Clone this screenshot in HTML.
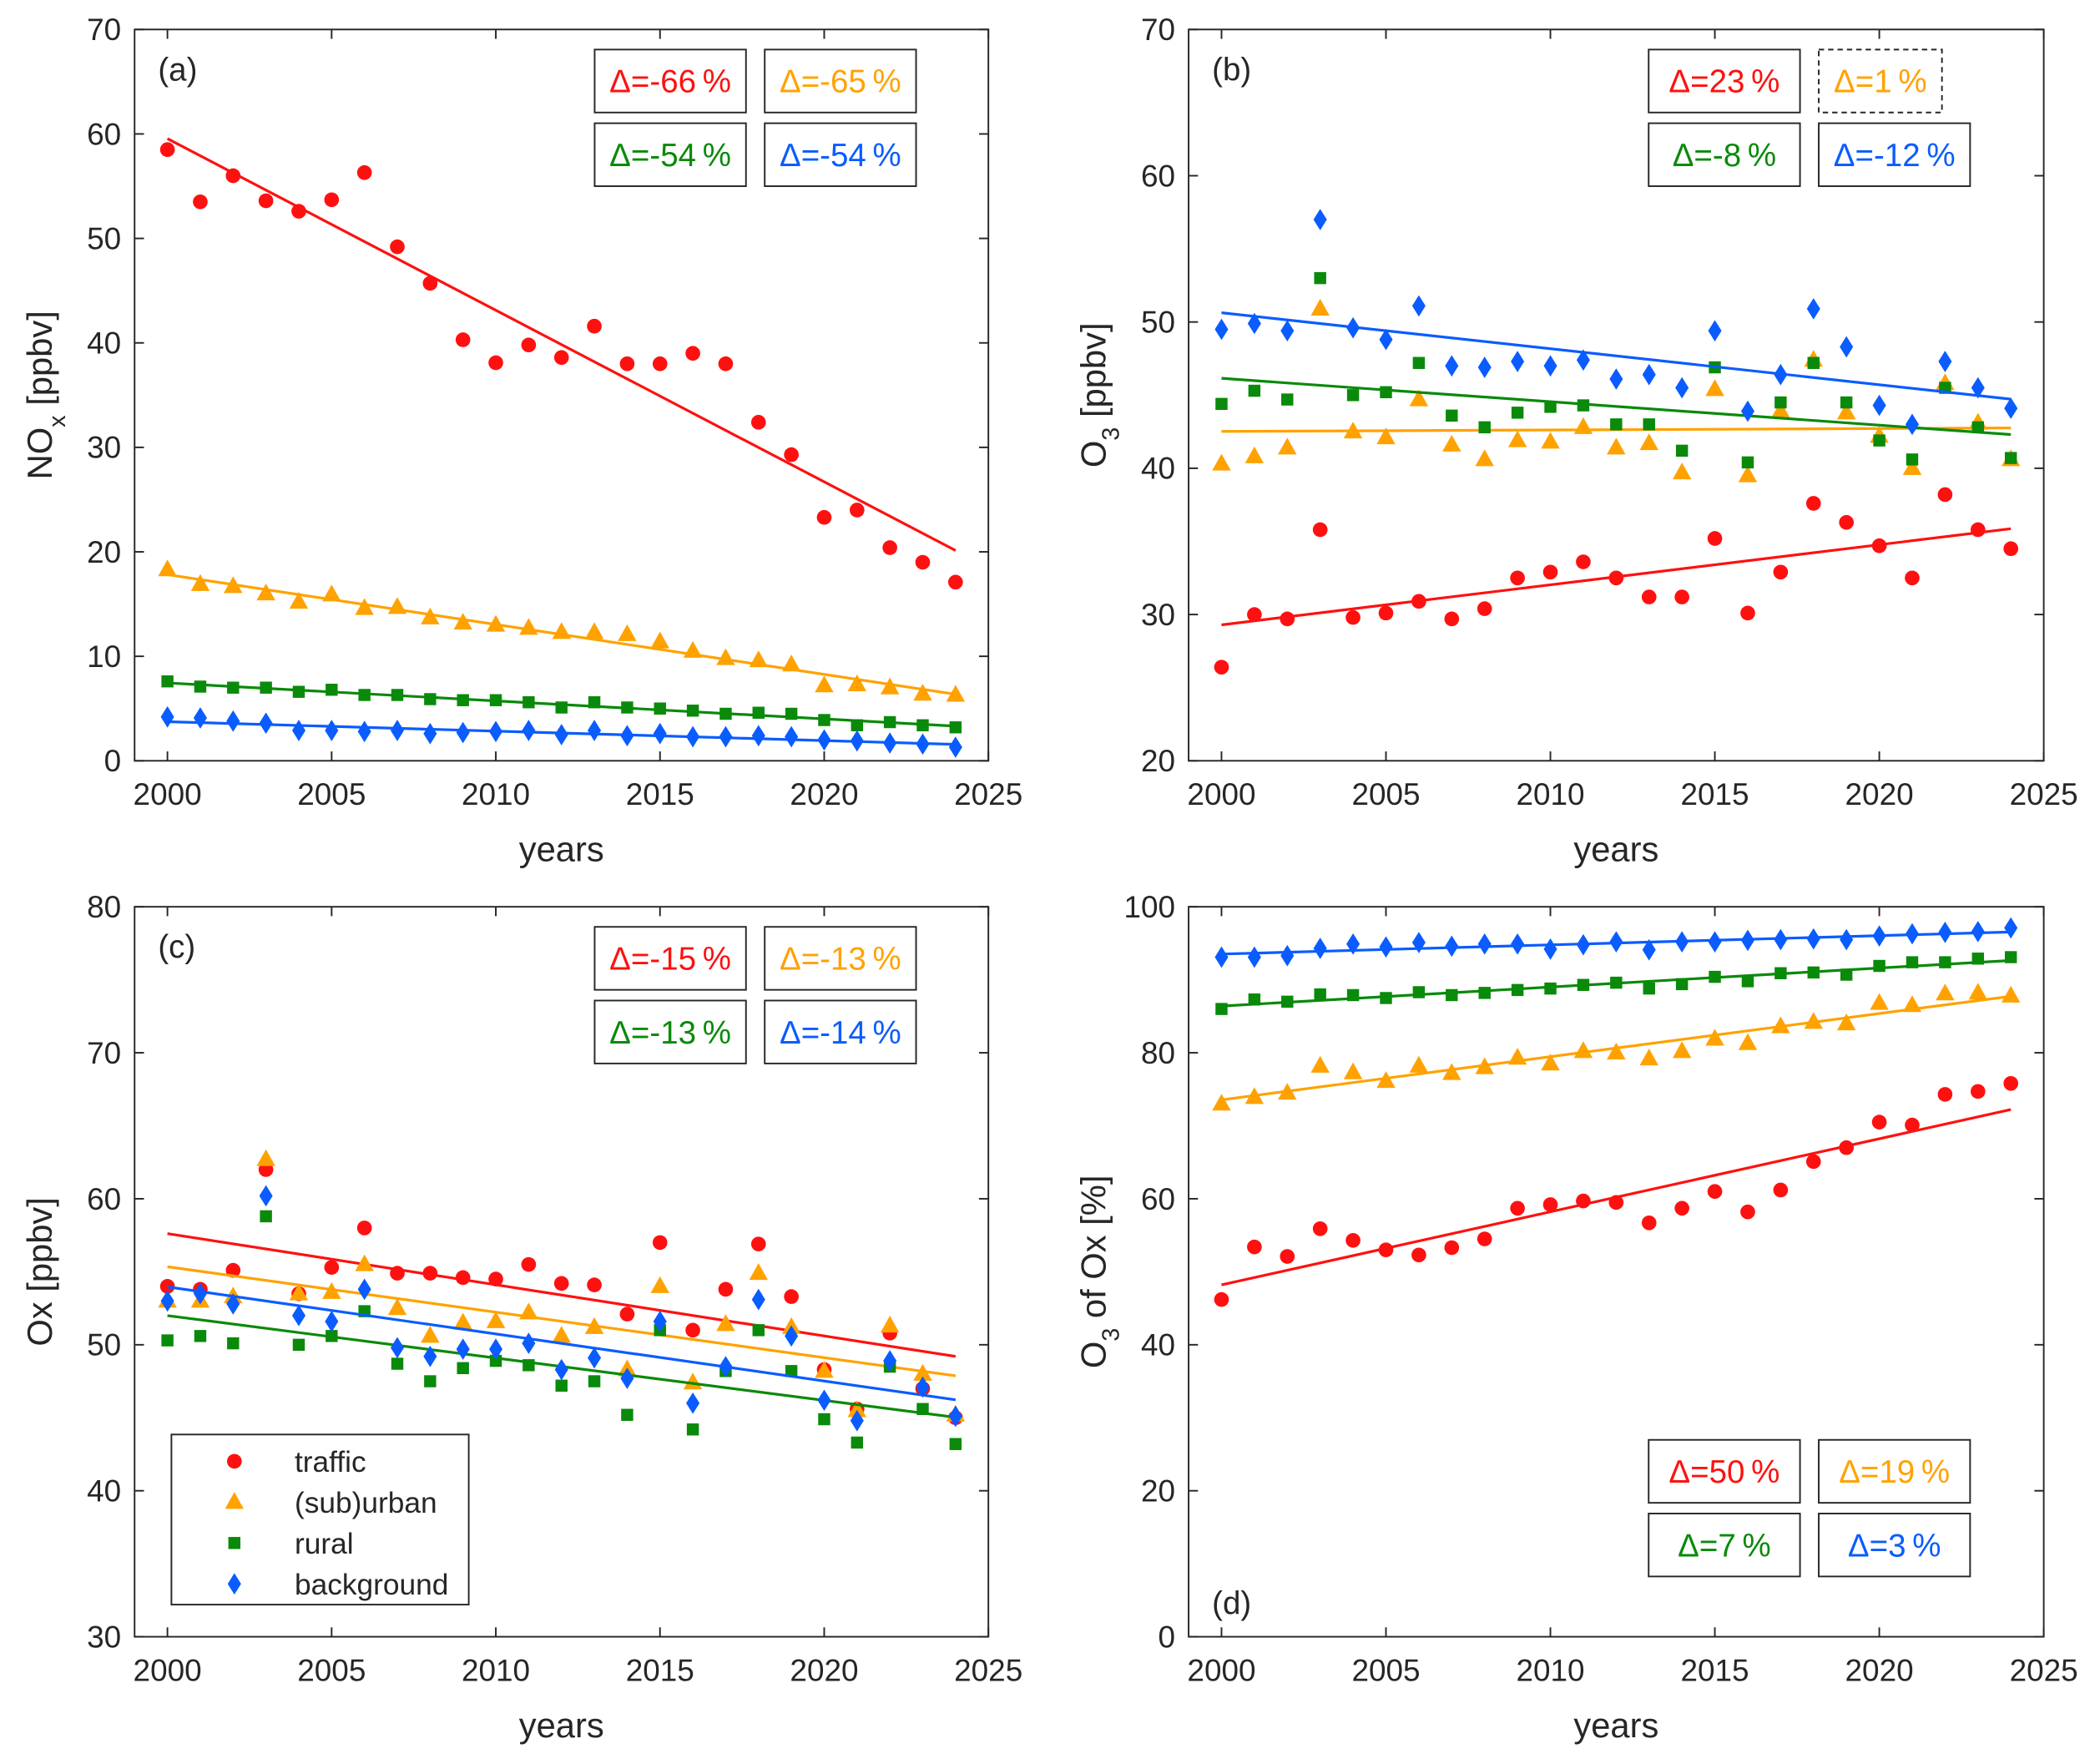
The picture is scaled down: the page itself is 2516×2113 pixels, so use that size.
<!DOCTYPE html>
<html><head><meta charset="utf-8"><style>
html,body{margin:0;padding:0;background:#fff}
svg{display:block}
text{font-family:"Liberation Sans",Arial,sans-serif;fill:#262626}
</style></head><body>
<svg id="fig" width="2516" height="2113" viewBox="0 0 1568 1317" preserveAspectRatio="none" xmlns="http://www.w3.org/2000/svg"></svg>
<script>
const years=[2000,2001,2002,2003,2004,2005,2006,2007,2008,2009,2010,2011,2012,2013,2014,2015,2016,2017,2018,2019,2020,2021,2022,2023,2024];
const seriesNames=["traffic","(sub)urban","rural","background"];
const noxTraffic=[58.5,53.5,56,53.6,52.6,53.7,56.3,49.2,45.7,40.3,38.1,39.8,38.6,41.6,38,38,39,38,32.4,29.3,23.3,24,20.4,19,17.1];
const noxSuburban=[18.3,16.9,16.7,16,15.2,15.9,14.6,14.7,13.7,13.2,13,12.7,12.3,12.3,12.1,11.4,10.5,9.8,9.6,9.2,7.2,7.3,7,6.4,6.3];
const noxRural=[7.6,7.1,7,7,6.6,6.8,6.3,6.3,5.9,5.8,5.8,5.6,5.1,5.6,5.1,5,4.8,4.5,4.6,4.5,3.9,3.4,3.7,3.4,3.2];
const noxBackground=[4.2,4.1,3.8,3.6,2.9,2.9,2.8,2.9,2.6,2.7,2.8,2.9,2.5,2.9,2.4,2.6,2.3,2.3,2.4,2.3,2,1.9,1.7,1.6,1.3];
const o3Traffic=[26.4,30,29.7,35.8,29.8,30.1,30.9,29.7,30.4,32.5,32.9,33.6,32.5,31.2,31.2,35.2,30.1,32.9,37.6,36.3,34.7,32.5,38.2,35.8,34.5];
const o3Suburban=[40.3,40.8,41.4,50.9,42.5,42.1,44.7,41.6,40.6,41.9,41.8,42.8,41.4,41.7,39.7,45.4,39.5,43.9,47.4,43.8,42.2,40,45.8,43.1,40.6];
const o3Rural=[44.4,45.3,44.7,53,45,45.2,47.2,43.6,42.8,43.8,44.2,44.3,43,43,41.2,46.9,40.4,44.5,47.2,44.5,41.9,40.6,45.5,42.8,40.7];
const o3Background=[49.5,49.9,49.4,57,49.6,48.8,51.1,47,46.9,47.3,47,47.4,46.1,46.4,45.5,49.4,43.9,46.4,50.9,48.3,44.3,43,47.3,45.5,44.1];
const oxTraffic=[54,53.8,55.1,62,53.5,55.3,58,54.9,54.9,54.6,54.5,55.5,54.2,54.1,52.1,57,51,53.8,56.9,53.3,48.3,45.6,50.8,47,45];
const oxSuburban=[53,53,53.3,62.7,53.5,53.6,55.5,52.5,50.6,51.5,51.6,52.2,50.6,51.2,48.3,54,47.4,51.4,54.9,51.2,48.2,45.5,51.3,48,45.2];
const oxRural=[50.3,50.6,50.1,58.8,50,50.6,52.3,48.7,47.5,48.4,48.9,48.6,47.2,47.5,45.2,51,44.2,48.2,51,48.2,44.9,43.3,48.5,45.6,43.2];
const oxBackground=[53,53.5,52.8,60.2,52,51.6,53.8,49.8,49.2,49.7,49.7,50.1,48.3,49.1,47.7,51.6,46,48.5,53.1,50.6,46.2,44.8,48.9,47.1,45.1];
const fracTraffic=[46.2,53.4,52.1,55.9,54.3,53,52.3,53.3,54.5,58.7,59.2,59.7,59.5,56.7,58.7,61,58.2,61.2,65.1,67,70.5,70.1,74.3,74.7,75.8];
const fracSuburban=[73,73.9,74.5,78.2,77.3,76.1,78.2,77.2,78,79.3,78.5,80.2,80,79.2,80.2,81.9,81.3,83.6,84.2,84,86.8,86.5,88.1,88.2,87.8];
const fracRural=[86,87.3,87,88,87.9,87.5,88.3,87.9,88.2,88.6,88.8,89.3,89.6,88.8,89.4,90.4,89.8,90.9,91,90.7,91.9,92.4,92.4,92.9,93.1];
const fracBackground=[93.1,93.1,93.3,94.3,94.9,94.5,95.1,94.6,94.9,94.9,94.2,94.8,95.2,94.1,95.2,95.2,95.4,95.5,95.6,95.5,96,96.3,96.5,96.6,97.1];
const xTicks=[2000,2005,2010,2015,2020,2025];
const deltaA=["-66","-65","-54","-54"];
const deltaB=["23","1","-8","-12"];
const deltaC=["-15","-13","-13","-14"];
const deltaD=["50","19","7","3"];

const NS="http://www.w3.org/2000/svg";
const svg=document.getElementById('fig');
const colors=["#ff1010","#ffa200","#0a8a0a","#0a5cff"];
const markers=["circle","triangle","square","diamond"];
function el(tag,attrs,parent){const e=document.createElementNS(NS,tag);for(const k in attrs)e.setAttribute(k,attrs[k]);(parent||svg).appendChild(e);return e;}
function fit(x,y){const n=x.length;let mx=0,my=0;for(let i=0;i<n;i++){mx+=x[i];my+=y[i];}mx/=n;my/=n;let a=0,b=0;for(let i=0;i<n;i++){a+=(x[i]-mx)*(y[i]-my);b+=(x[i]-mx)**2;}const s=a/b;return [s,my-s*mx];}
function marker(g,type,cx,cy,c){
  let m;
  if(type==="circle")m=el('circle',{cx:cx,cy:cy,r:5.5,fill:c},g);
  else if(type==="triangle")m=el('polygon',{points:`${cx},${cy-7.5} ${cx+7},${cy+5} ${cx-7},${cy+5}`,fill:c},g);
  else if(type==="square")m=el('rect',{x:cx-4.5,y:cy-4.5,width:9,height:9,fill:c},g);
  else m=el('polygon',{points:`${cx},${cy-8} ${cx+5},${cy} ${cx},${cy+8} ${cx-5},${cy}`,fill:c},g);
  return m;
}
function panel(p){
  const g=el('g',{});
  
  
  const X=v=>p.L+(v-1999)/26*(p.R-p.L);
  const Y=v=>p.B-(v-p.ymin)/(p.ymax-p.ymin)*(p.B-p.T);
  const box=el('rect',{x:p.L,y:p.T,width:p.R-p.L,height:p.B-p.T,fill:'none',stroke:'#262626','stroke-width':1.2},g);
  
  
  xTicks.forEach(t=>{
    const x=X(t);
    el('line',{x1:x,y1:p.B,x2:x,y2:p.B-7,stroke:'#262626','stroke-width':1.2},g);
    el('line',{x1:x,y1:p.T,x2:x,y2:p.T+7,stroke:'#262626','stroke-width':1.2},g);
    const tl=el('text',{x:x,y:p.B+33,'text-anchor':'middle','font-size':23},g);tl.textContent=t;
    
    
  });
  for(let v=p.ymin;v<=p.ymax+1e-9;v+=p.ystep){
    const y=Y(v);
    el('line',{x1:p.L,y1:y,x2:p.L+7,y2:y,stroke:'#262626','stroke-width':1.2},g);
    el('line',{x1:p.R,y1:y,x2:p.R-7,y2:y,stroke:'#262626','stroke-width':1.2},g);
    const tl=el('text',{x:p.L-10,y:y+8,'text-anchor':'end','font-size':23},g);tl.textContent=v;
    
    
  }
  const xl=el('text',{x:(p.L+p.R)/2,y:p.B+75,'text-anchor':'middle','font-size':26},g);xl.textContent='years';
  
  
  const yl=el('text',{x:0,y:0,'text-anchor':'middle','font-size':26,transform:`translate(${p.L-62},${(p.T+p.B)/2}) rotate(-90)`},g);
  yl.innerHTML=p.ylabel;
  
  
  const lt=el('text',{x:p.lx,y:p.ly,'font-size':24},g);lt.textContent='('+p.id+')';
  
  
  p.data.forEach((arr,si)=>{
    const sg=el('g',{},g);
    
    
    const [s,b]=fit(years,arr);
    const ln=el('line',{x1:X(2000),y1:Y(s*2000+b),x2:X(2024),y2:Y(s*2024+b),stroke:colors[si],'stroke-width':2},sg);
    
    
    arr.forEach((v,i)=>{
      const m=marker(sg,markers[si],X(years[i]),Y(v),colors[si]);
      
      
    });
  });
  const bw=[113,113,113,113];
  p.deltas.forEach((d,i)=>{
    const bx=p.dx+(i%2)*127, by=p.dy+Math.floor(i/2)*55;
    const w=(p.dashed===i)?92:113;
    const r=el('rect',{x:bx,y:by,width:w,height:47,fill:'#fff',stroke:'#262626','stroke-width':1.2},g);
    if(p.dashed===i)r.setAttribute('stroke-dasharray','4 3');
    
    
    const t=el('text',{x:bx+w/2,y:by+32,'text-anchor':'middle','font-size':24,style:'fill:'+colors[i]},g);
    t.textContent='\u0394='+d+'\u2009%';
    
    
  });
  return g;
}
panel({id:'a',L:100.5,R:738,T:22,B:568,ymin:0,ymax:70,ystep:10,ylabel:'NO<tspan baseline-shift="sub" font-size="18">x</tspan> [ppbv]',lx:118,ly:60,data:[noxTraffic,noxSuburban,noxRural,noxBackground],deltas:deltaA,dx:444,dy:37});
panel({id:'b',L:887.5,R:1526,T:22,B:568,ymin:20,ymax:70,ystep:10,ylabel:'O<tspan baseline-shift="sub" font-size="18">3</tspan> [ppbv]',lx:905,ly:60,data:[o3Traffic,o3Suburban,o3Rural,o3Background],deltas:deltaB,dx:1231,dy:37,dashed:1});
panel({id:'c',L:100.5,R:738,T:677,B:1222,ymin:30,ymax:80,ystep:10,ylabel:'Ox [ppbv]',lx:118,ly:715,data:[oxTraffic,oxSuburban,oxRural,oxBackground],deltas:deltaC,dx:444,dy:692});
panel({id:'d',L:887.5,R:1526,T:677,B:1222,ymin:0,ymax:100,ystep:20,ylabel:'O<tspan baseline-shift="sub" font-size="18">3</tspan> of Ox [%]',lx:905,ly:1205,data:[fracTraffic,fracSuburban,fracRural,fracBackground],deltas:deltaD,dx:1231,dy:1075});
// legend
const lg=el('g',{});


el('rect',{x:128,y:1071,width:222,height:127,fill:'#fff',stroke:'#262626','stroke-width':1.2},lg);
seriesNames.forEach((n,i)=>{
  const y=1091+i*30.5;
  const m=marker(lg,markers[i],175,y,colors[i]);
  
  
  const t=el('text',{x:220,y:y+8,'font-size':22},lg);t.textContent=n;
  
  
});
</script>
</body></html>
